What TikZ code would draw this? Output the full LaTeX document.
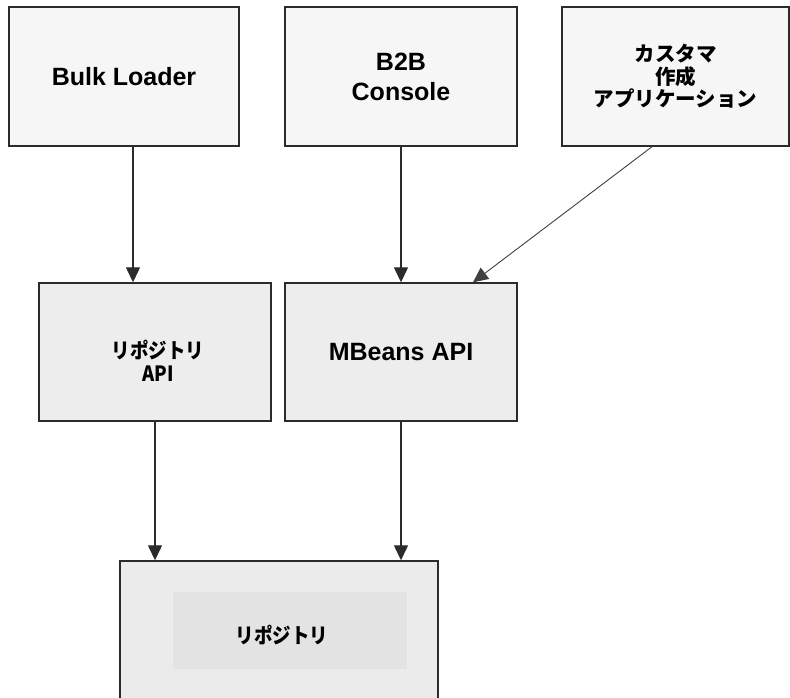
\documentclass[tikz,border=0pt]{standalone}
\usepackage{fontspec}
\setmainfont{Liberation Sans}
\newfontfamily\jp[FakeStretch=0.88]{Noto Sans CJK JP}
\newfontfamily\jpw{Noto Sans CJK JP}
\usetikzlibrary{arrows.meta}
\definecolor{topfill}{HTML}{F6F6F6}
\definecolor{midfill}{HTML}{EDEDED}
\definecolor{botfill}{HTML}{EBEBEB}
\definecolor{innerfill}{HTML}{E3E3E3}
\definecolor{boxline}{HTML}{2B2B2B}
\begin{document}
\begin{tikzpicture}[x=1pt,y=-1pt,
  box/.style={draw=boxline, line width=1.4pt, inner sep=0pt, align=center},
  topbox/.style={box, fill=topfill, minimum height=139pt},
  midbox/.style={box, fill=midfill, minimum height=138pt, minimum width=232pt},
  lat/.style={font=\fontsize{25}{30}\selectfont\bfseries},
  jpf/.style={font=\jp\bfseries\fontsize{21}{22.5}\selectfont},
  jpwide/.style={font=\jpw\bfseries\fontsize{20.5}{22.5}\selectfont},
  arr/.style={line width=1.3pt, draw=boxline, -{Triangle[length=15pt,width=14pt]}},
  darr/.style={line width=0.9pt, draw=black!75, -{Triangle[length=15pt,width=14pt]}}
]
\useasboundingbox (0,0) rectangle (790,698);
\fill[white] (0,0) rectangle (790,698);

% top row
\node[topbox, minimum width=230pt, lat] (bulk) at (124,76.5) {Bulk Loader};
\node[topbox, minimum width=232pt, lat] (b2b) at (401,76.5) {B2B\\Console};
\node[topbox, minimum width=227pt, jpwide] (cust) at (675.5,76.5) {カスタマ\\作成\\アプリケーション};

% middle row
\node[midbox] (rapi) at (155,352) {};
\node[jpf, align=center] (rapitext) at (158,361) {リポジトリ\\API};
\node[midbox, lat] (mbeans) at (401,352) {MBeans API};

% bottom box
\node[box, fill=botfill, minimum width=318pt, minimum height=140pt] (repo) at (279,631) {};
\node[fill=innerfill, inner sep=0pt, minimum width=234pt, minimum height=77pt] (repoinner) at (290,630.5) {};
\node[jpf] (repotext) at (282,635) {リポジトリ};

% connectors
\draw[arr] ([xshift=9pt]bulk.south) -- ([xshift=9pt]bulk.south |- rapi.north);
\draw[arr] (b2b.south) -- (mbeans.north);
\draw[darr] ([xshift=-23.5pt]cust.south) -- ([xshift=72pt]mbeans.north);
\draw[arr] (rapi.south) -- (rapi.south |- repo.north);
\draw[arr] (mbeans.south) -- (mbeans.south |- repo.north);
\end{tikzpicture}
\end{document}
